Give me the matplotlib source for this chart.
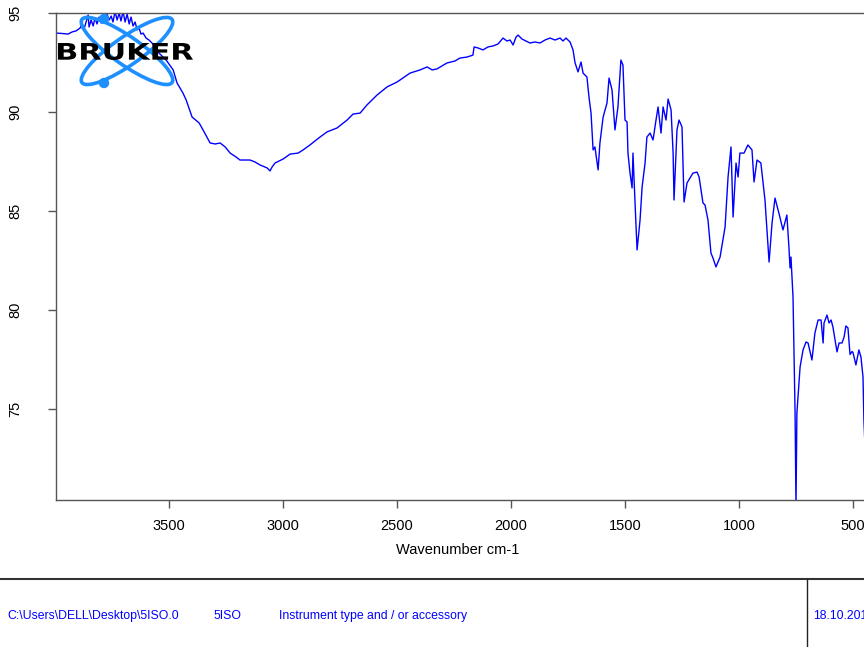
import matplotlib
matplotlib.use("Agg")
import matplotlib.pyplot as plt
from matplotlib.patches import Ellipse, Circle, PathPatch
from matplotlib.textpath import TextPath
from matplotlib.font_manager import FontProperties
from matplotlib.transforms import Affine2D

plt.rcParams['font.family'] = ['Liberation Sans', 'DejaVu Sans']

# IR spectrum, wavenumber (cm-1) vs transmittance (%)
wavenumber = [
    3996, 3969, 3943, 3925, 3908, 3890, 3882, 3873, 3864, 3855, 3851, 3842, 3833,
    3825, 3816, 3807, 3798, 3789, 3781, 3772, 3763, 3754, 3746, 3737, 3728, 3719,
    3711, 3702, 3693, 3684, 3675, 3667, 3658, 3649, 3640, 3632, 3623, 3614, 3601,
    3588, 3575, 3544, 3513, 3482, 3465, 3439, 3425, 3399, 3368, 3351, 3320, 3298,
    3276, 3254, 3232, 3206, 3189, 3145, 3123, 3101, 3070, 3057, 3048, 3035, 3000,
    2969, 2934, 2912, 2882, 2838, 2807, 2763, 2719, 2693, 2662, 2632, 2588, 2544,
    2500, 2487, 2443, 2399, 2368, 2346, 2325, 2281, 2246, 2224, 2193, 2180, 2167,
    2162, 2145, 2123, 2101, 2079, 2057, 2035, 2018, 2004, 1991, 1978, 1969, 1952,
    1934, 1917, 1895, 1873, 1851, 1829, 1807, 1785, 1772, 1759, 1741, 1728, 1719,
    1706, 1693, 1684, 1667, 1658, 1649, 1640, 1632, 1618, 1610, 1596, 1579, 1570,
    1557, 1544, 1531, 1518, 1509, 1500, 1491, 1487, 1478, 1469, 1465, 1456, 1447,
    1434, 1425, 1412, 1404, 1390, 1377, 1364, 1355, 1342, 1333, 1320, 1311, 1298,
    1289, 1285, 1272, 1263, 1250, 1241, 1228, 1202, 1184, 1175, 1158, 1149, 1136,
    1123, 1114, 1101, 1083, 1061, 1048, 1035, 1026, 1013, 1004, 996, 978, 961,
    943, 934, 921, 904, 886, 868, 855, 842, 825, 807, 790, 781, 776,
    772, 763, 754, 750, 746, 732, 719, 706, 697, 680, 667, 653, 640,
    631, 627, 614, 605, 596, 588, 570, 561, 548, 539, 531, 522, 513,
    504, 500, 487, 474, 465, 456, 452, 443, 420,
]
transmittance = [
    93.96, 93.94, 93.91, 94.02, 94.07, 94.22, 94.42, 94.17, 94.52, 94.87, 94.27, 94.62, 94.32,
    94.72, 94.42, 94.77, 94.47, 94.82, 94.57, 94.92, 94.62, 94.82, 94.52, 95.05, 94.62, 94.97,
    94.57, 95.05, 94.52, 94.92, 94.42, 94.77, 94.32, 94.52, 94.12, 94.22, 93.91, 93.96, 93.71,
    93.61, 93.46, 92.95, 92.60, 92.10, 91.44, 90.93, 90.58, 89.72, 89.42, 89.07, 88.41, 88.36,
    88.41, 88.21, 87.90, 87.70, 87.55, 87.55, 87.45, 87.30, 87.15, 87.00, 87.20, 87.40, 87.60,
    87.85, 87.90, 88.06, 88.31, 88.71, 88.97, 89.17, 89.57, 89.87, 89.92, 90.33, 90.83, 91.24,
    91.49, 91.59, 91.94, 92.10, 92.25, 92.10, 92.15, 92.45, 92.55, 92.70, 92.75, 92.80, 92.85,
    93.26, 93.21, 93.11, 93.26, 93.31, 93.41, 93.71, 93.56, 93.61, 93.36, 93.76, 93.86, 93.66,
    93.56, 93.46, 93.51, 93.46, 93.61, 93.71, 93.61, 93.71, 93.56, 93.71, 93.51, 93.11, 92.45,
    92.00, 92.50, 91.94, 91.74, 90.73, 89.92, 88.06, 88.21, 87.05, 88.41, 89.72, 90.43, 91.69,
    91.09, 89.07, 90.23, 92.60, 92.35, 89.57, 89.47, 87.90, 86.89, 86.14, 87.90, 85.38, 83.01,
    84.52, 86.19, 87.40, 88.71, 88.91, 88.56, 89.57, 90.23, 88.91, 90.23, 89.57, 90.63, 90.08,
    87.90, 85.53, 89.07, 89.57, 89.22, 85.43, 86.39, 86.89, 86.94, 86.69, 85.38, 85.28, 84.52,
    82.85, 82.60, 82.15, 82.65, 84.17, 86.69, 88.21, 84.67, 87.40, 86.69, 87.90, 87.90, 88.31,
    88.06, 86.44, 87.55, 87.40, 85.53, 82.40, 84.37, 85.63, 84.87, 84.02, 84.77, 83.16, 82.10,
    82.65, 80.63, 74.77, 70.00, 74.77, 77.10, 77.96, 78.36, 78.31, 77.45, 78.81, 79.47, 79.47,
    78.31, 79.32, 79.72, 79.32, 79.47, 79.12, 77.86, 78.31, 78.31, 78.61, 79.17, 79.07, 77.73,
    77.88, 77.83, 77.20, 77.96, 77.60, 76.59, 74.42, 71.90, 70.50,
]

x_ticks = [3500, 3000, 2500, 2000, 1500, 1000, 500]
y_ticks = [75, 80, 85, 90, 95]

footer_path = "C:\\Users\\DELL\\Desktop\\5ISO.0"
footer_name = "5ISO"
footer_instr = "Instrument type and / or accessory"
footer_date = "18.10.2019"

W, H = 864, 647
fig = plt.figure(figsize=(W / 100, H / 100), dpi=100)

# plot frame runs slightly past the right edge of the page
ax = fig.add_axes([56 / W, (H - 500) / H, (876 - 56) / W, 487.5 / H])
ax.plot(wavenumber, transmittance, color='#0000ff', lw=1.0)
ax.set_xlim(3996, 399)
ax.set_ylim(70.38, 95.0)
ax.set_xticks(x_ticks)
ax.set_yticks(y_ticks)
for s in ax.spines.values():
    s.set_color('#555555')
    s.set_linewidth(1.0)
ax.tick_params(direction='out', length=6, width=1, color='#555555', labelsize=10.5)
ax.tick_params(axis='x', pad=8)
ax.tick_params(axis='y', pad=18)
for lbl in ax.get_yticklabels():
    lbl.set_rotation(90)
    lbl.set_va('center')
ax.set_xlabel("Wavenumber cm-1", fontsize=10.5)
ax.xaxis.set_label_coords((458 - 56) / (876 - 56), -0.088)

# overlay in pixel units for the logo and the footer
ov = fig.add_axes([0, 0, 1, 1], zorder=5)
ov.set_xlim(0, W)
ov.set_ylim(H, 0)
ov.axis('off')
ov.patch.set_alpha(0)

logo_blue = '#1e8fff'
ov.add_patch(Ellipse((127, 51), 110, 28, angle=35, fill=False, ec=logo_blue, lw=2.6))
ov.add_patch(Ellipse((127, 51), 110, 28, angle=-35, fill=False, ec=logo_blue, lw=2.6))
ov.add_patch(Circle((104, 19), 4.5, color=logo_blue))
ov.add_patch(Circle((104, 83), 4.5, color=logo_blue))
tp = TextPath((0, 0), "BRUKER", size=20, prop=FontProperties(family='DejaVu Sans', weight='bold'))
ext = tp.get_extents()
tr = Affine2D().translate(-ext.x0, -ext.y0).scale(135 / ext.width, -17 / ext.height).translate(58, 60)
ov.add_patch(PathPatch(tr.transform_path(tp), fc='black', ec='none'))

ov.plot([0, W], [579, 579], color='#333333', lw=1.5)
ov.plot([807, 807], [579, H], color='#222222', lw=1.0)
ov.text(7, 616, footer_path, color='#0000ff', fontsize=8.8, va='center')
ov.text(214, 616, footer_name, color='#0000ff', fontsize=8.8, va='center')
ov.text(279, 616, footer_instr, color='#0000ff', fontsize=8.8, va='center')
ov.text(813, 616, footer_date, color='#0000ff', fontsize=8.8, va='center')

fig.savefig("out.png", dpi=100)
